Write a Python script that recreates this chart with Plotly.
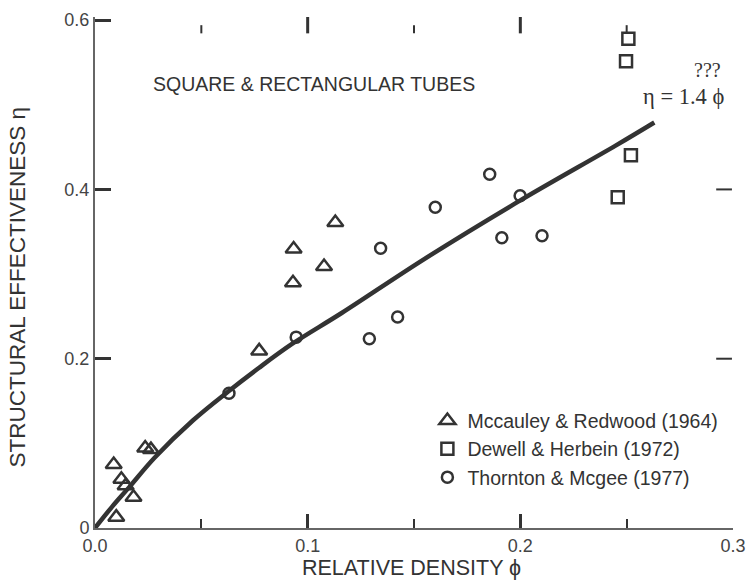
import plotly.graph_objects as go

# Mccauley & Redwood (1964)
mr_phi = [0.0236, 0.0263, 0.0088, 0.0124, 0.0144, 0.0181, 0.0100,
          0.1130, 0.0934, 0.1077, 0.0931, 0.0772]
mr_eta = [0.0945, 0.0926, 0.0751, 0.0576, 0.0498, 0.0362, 0.0128,
          0.3608, 0.3297, 0.3090, 0.2897, 0.2092]

# Dewell & Herbein (1972)
dh_phi = [0.2508, 0.2497, 0.2520, 0.2458]
dh_eta = [0.5781, 0.5513, 0.4405, 0.3907]

# Thornton & Mcgee (1977)
tm_phi = [0.0630, 0.0946, 0.1290, 0.1423, 0.1343, 0.1600, 0.1856,
          0.1999, 0.1913, 0.2102]
tm_eta = [0.1592, 0.2255, 0.2236, 0.2492, 0.3305, 0.3790, 0.4180,
          0.3926, 0.3429, 0.3452]

# Fitted curve
fit_phi = [0.0, 0.008, 0.016, 0.028, 0.046, 0.0625, 0.077, 0.093, 0.116,
           0.155, 0.200, 0.245, 0.263]
fit_eta = [0.0, 0.025, 0.048, 0.083, 0.127, 0.161, 0.189, 0.218, 0.254,
           0.318, 0.387, 0.452, 0.479]

x_tickvals = [0.0, 0.1, 0.2, 0.3]
x_ticktext = ["0.0", "0.1", "0.2", "0.3"]
y_tickvals = [0.0, 0.2, 0.4, 0.6]
y_ticktext = ["0", "0.2", "0.4", "0.6"]
top_minor = [0.05, 0.15, 0.25]
top_major = [0.1, 0.2]
right_marks = [0.2, 0.4]

INK = "#333333"
AXIS = "#666666"
SANS = "Liberation Sans, Arial, sans-serif"
SERIF = "Liberation Serif, Times New Roman, serif"

fig = go.Figure()

fig.add_trace(go.Scatter(
    x=fit_phi, y=fit_eta, mode="lines", showlegend=False,
    line=dict(color=INK, width=4.5, shape="spline", smoothing=1.0),
    hoverinfo="skip"))

marker_common = dict(color=INK, line=dict(color=INK, width=2.5))
fig.add_trace(go.Scatter(
    x=mr_phi, y=mr_eta, mode="markers", name="Mccauley & Redwood (1964)",
    marker=dict(symbol="triangle-up-open", size=14, **marker_common)))
fig.add_trace(go.Scatter(
    x=dh_phi, y=dh_eta, mode="markers", name="Dewell & Herbein (1972)",
    marker=dict(symbol="square-open", size=12, **marker_common)))
fig.add_trace(go.Scatter(
    x=tm_phi, y=tm_eta, mode="markers", name="Thornton & Mcgee (1977)",
    marker=dict(symbol="circle-open", size=11, **marker_common)))

shapes = []
for v in top_minor:
    shapes.append(dict(type="line", xref="x", yref="paper", x0=v, x1=v,
                       y0=0.968, y1=0.984, line=dict(color=INK, width=2)))
for v in top_major:
    shapes.append(dict(type="line", xref="x", yref="paper", x0=v, x1=v,
                       y0=0.968, y1=1.0, line=dict(color=INK, width=3)))
for v in right_marks:
    shapes.append(dict(type="line", xref="x", yref="y", x0=0.2921, x1=0.2995,
                       y0=v, y1=v, line=dict(color=INK, width=2)))

annotations = [
    dict(text="SQUARE & RECTANGULAR TUBES", x=0.1028, y=0.5245, xref="x", yref="y",
         xanchor="center", yanchor="middle", showarrow=False,
         font=dict(family=SANS, size=19.5, color=INK)),
    dict(text="???", x=0.2953, y=0.541, xref="x", yref="y",
         xanchor="right", yanchor="middle", showarrow=False,
         font=dict(family=SERIF, size=20, color=INK)),
    dict(text="η = 1.4 ϕ", x=0.2768, y=0.5103, xref="x", yref="y",
         xanchor="center", yanchor="middle", showarrow=False,
         font=dict(family=SERIF, size=22.5, color=INK)),
    dict(text="STRUCTURAL EFFECTIVENESS η", textangle=-90,
         x=-0.122, y=0.471, xref="paper", yref="paper",
         xanchor="center", yanchor="middle", showarrow=False,
         font=dict(family=SANS, size=22.5, color=INK)),
    dict(text="RELATIVE DENSITY ϕ", x=0.4957, y=-0.078, xref="paper", yref="paper",
         xanchor="center", yanchor="middle", showarrow=False,
         font=dict(family=SANS, size=21.5, color=INK)),
]

fig.update_layout(
    width=756, height=587,
    margin=dict(l=95, r=13, t=10, b=59),
    paper_bgcolor="white", plot_bgcolor="white",
    shapes=shapes, annotations=annotations,
    legend=dict(x=0.521, y=0.248, xanchor="left", yanchor="top",
                bgcolor="rgba(0,0,0,0)",
                font=dict(family=SANS, size=19.5, color=INK)),
    xaxis=dict(range=[0, 0.3], showgrid=False, zeroline=False,
               showline=True, linecolor=AXIS, linewidth=2,
               tickvals=x_tickvals, ticktext=x_ticktext,
               ticks="inside", ticklen=14, tickwidth=2.5, tickcolor=INK,
               minor=dict(dtick=0.05, tick0=0, ticks="inside", ticklen=9,
                          tickwidth=2, tickcolor=INK, showgrid=False),
               tickfont=dict(family=SANS, size=18, color="#444444")),
    yaxis=dict(range=[0, 0.6037], showgrid=False, zeroline=False,
               showline=True, linecolor=AXIS, linewidth=2,
               tickvals=y_tickvals, ticktext=y_ticktext,
               ticks="inside", ticklen=16, tickwidth=2.5, tickcolor=INK,
               tickfont=dict(family=SANS, size=18, color="#444444")),
)

fig.write_html("out.html")
